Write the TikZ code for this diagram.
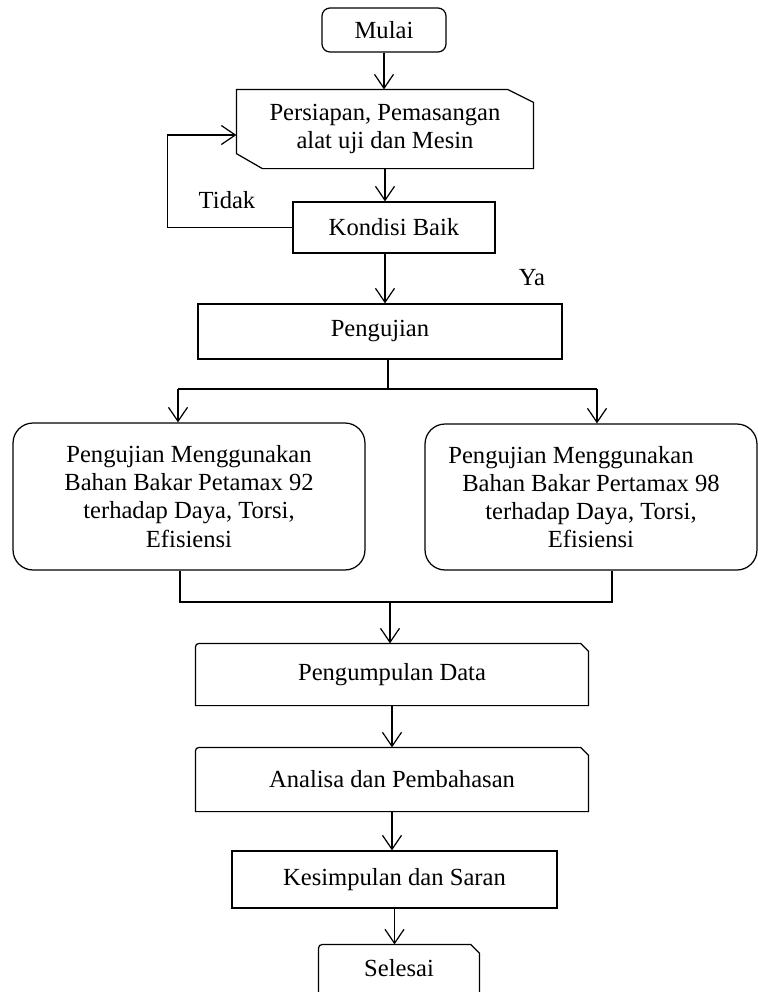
\documentclass[tikz,border=0pt]{standalone}
\usepackage{fontspec}
\setmainfont{Liberation Serif}
\usetikzlibrary{arrows.meta,calc}

\begin{document}
\begin{tikzpicture}[x=0.02cm,y=-0.02cm,line width=0.7pt,
  teks/.style={inner sep=0pt,align=center,font=\fontsize{14}{16}\selectfont},
  kotak/.style={teks,minimum width=#1},
  arr/.style={-{Straight Barb[length=2.8mm,width=3.8mm]}}]
\useasboundingbox (0,0) rectangle (758,992);
\node[kotak=2.48cm,minimum height=0.88cm,draw,rounded corners=0.16cm](mulai) at(384,30){Mulai};
\node[kotak=5.92cm,minimum height=1.56cm](prs) at(385,129){Persiapan, Pemasangan\\alat uji dan Mesin};
\draw (prs.north west)--($(prs.north east)+(-26,0)$)--($(prs.north east)+(0,13)$)--(prs.south east)
  --($(prs.south west)+(26,0)$)--($(prs.south west)+(0,-15)$)--cycle;
\node[kotak=4.04cm,minimum height=1.02cm,draw](kon) at(394,227.5){Kondisi Baik};
\node[teks](tdk) at(227,200){Tidak};
\node[teks](ya) at(532,278){Ya};
\node[kotak=7.28cm,minimum height=1.1cm,draw](pgj) at(380,331.5){Pengujian};
\node[kotak=7.04cm,minimum height=2.94cm,draw,rounded corners=0.4cm](kiri) at(189,496.5)
  {Pengujian Menggunakan\\Bahan Bakar Petamax 92\\terhadap Daya, Torsi,\\Efisiensi};
\node[kotak=6.64cm,minimum height=2.92cm,draw,rounded corners=0.4cm](kanan) at(591,497)
  {Pengujian Menggunakan\hspace*{0.8cm}\\Bahan Bakar Pertamax 98\\terhadap Daya, Torsi,\\Efisiensi};
\node[kotak=7.84cm,minimum height=1.22cm](kmp) at(392,674.5){Pengumpulan Data};
\draw (kmp.south west)--($(kmp.north west)+(0,8)$) .. controls (kmp.north west) .. ($(kmp.north west)+(8,0)$)
  --($(kmp.north east)+(-8,0)$)--($(kmp.north east)+(0,8)$)--(kmp.south east)--cycle;
\node[kotak=7.84cm,minimum height=1.26cm](ana) at(392,779.5){Analisa dan Pembahasan};
\draw (ana.south west)--($(ana.north west)+(0,8)$) .. controls (ana.north west) .. ($(ana.north west)+(8,0)$)
  --($(ana.north east)+(-8,0)$)--($(ana.north east)+(0,8)$)--(ana.south east)--cycle;
\node[kotak=6.5cm,minimum height=1.14cm,draw](ksp) at(394.5,879.5){Kesimpulan dan Saran};
\node[kotak=3.2cm,minimum height=0.94cm](sls) at(399,968.5){Selesai};
\draw (sls.south west)--($(sls.north west)+(0,9)$) .. controls (sls.north west) .. ($(sls.north west)+(9,0)$)
  --($(sls.north east)+(-9,0)$)--($(sls.north east)+(0,9)$)--(sls.south east);
\draw[arr](mulai.south)--(mulai.south|-prs.north);
\draw[arr](prs.south)--(prs.south|-kon.north);
\draw[arr](kon.west)--++(-125,0)|-($(prs.west)+(0,6)$);
\draw[arr](prs.south|-kon.south)--(prs.south|-pgj.north);
\coordinate(cab) at(388,389);
\coordinate(ca) at(178,389);
\coordinate(cb) at(597,389);
\draw(pgj.south-|cab)--(cab);
\draw(ca)--(cb);
\draw[arr](ca)--(ca|-kiri.north);
\draw[arr](cb)--(cb|-kanan.north);
\coordinate(ga) at(180,602);
\coordinate(gb) at(612,602);
\coordinate(gc) at(390,602);
\draw(ga|-kiri.south)--(ga)--(gb)--(gb|-kanan.south);
\draw[arr](gc)--(gc|-kmp.north);
\draw[arr](kmp.south)--(ana.north);
\draw[arr](ana.south)--(ana.south|-ksp.north);
\draw[arr](ksp.south)--(ksp.south|-sls.north);
\end{tikzpicture}
\end{document}
